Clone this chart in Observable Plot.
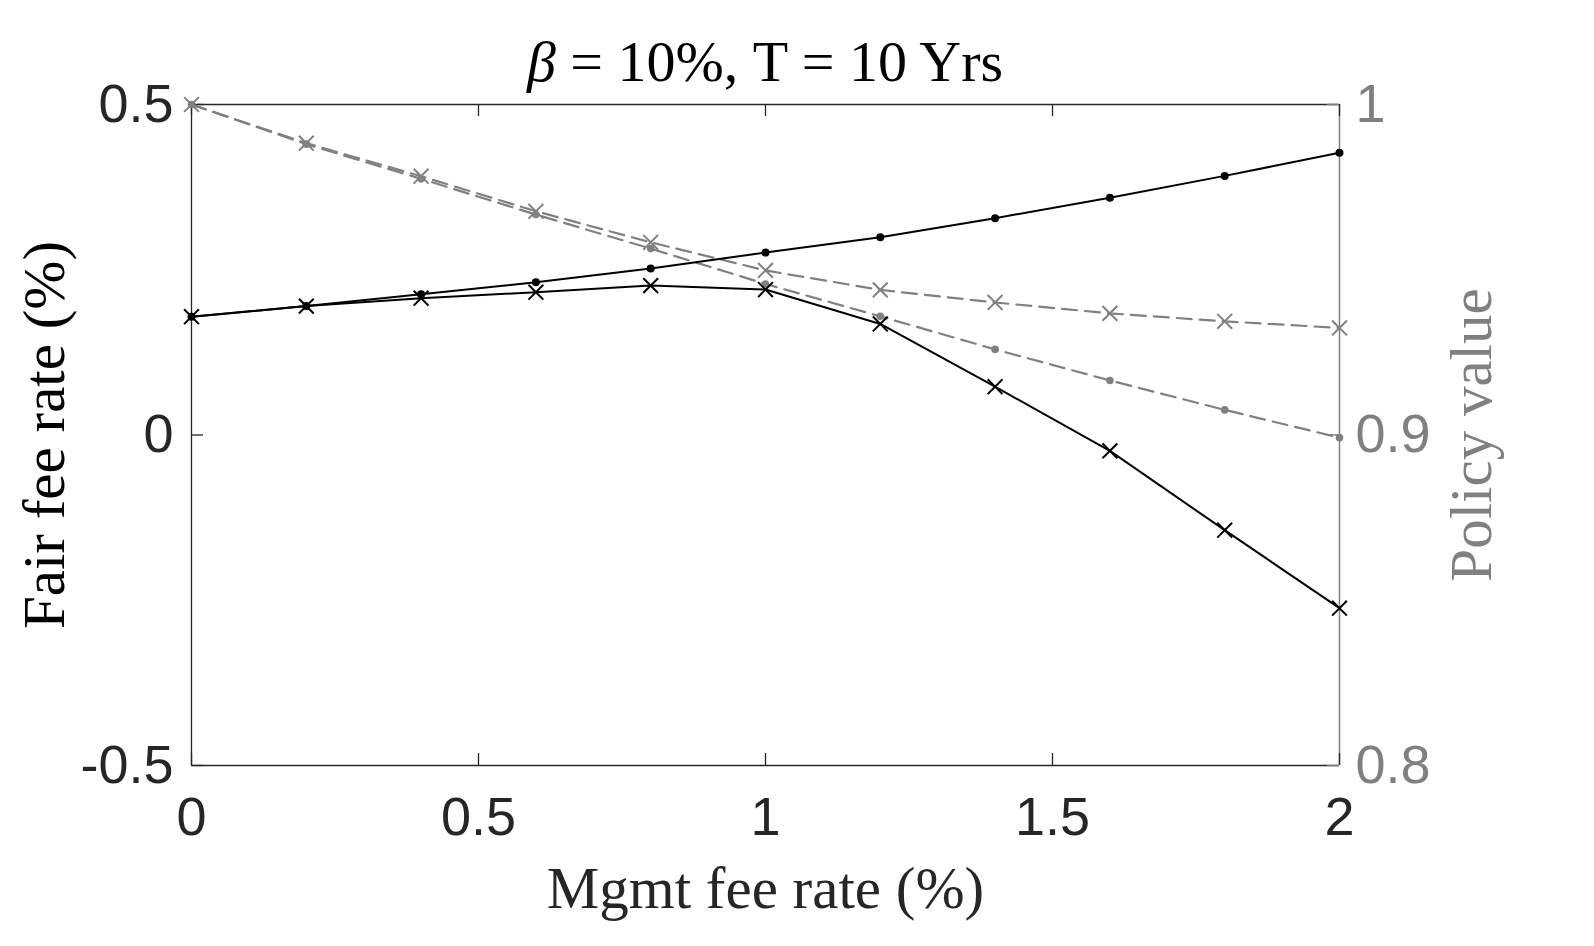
<!DOCTYPE html>
<html>
<head>
<meta charset="utf-8">
<script src="https://cdn.jsdelivr.net/npm/d3@7"></script>
<script src="https://cdn.jsdelivr.net/npm/@observablehq/plot@0.6"></script>
<style>
  html, body { margin: 0; padding: 0; background: #ffffff; }
  #wrap { width: 1594px; height: 946px; position: relative; background: #fff; }
  #title {
    width: 1530px; height: 59px; padding-top: 32px;
    text-align: center; font-family: "Liberation Serif", serif; font-size: 58px;
    line-height: 59px; color: #000; white-space: nowrap;
  }
  svg { display: block; }
</style>
</head>
<body>
<div id="wrap">
  <div id="title"><i>β</i> = 10%, T = 10 Yrs</div>
  <div id="chart"></div>
</div>
<script>
// ---- data ----
const mgmtFee = [0, 0.2, 0.4, 0.6, 0.8, 1.0, 1.2, 1.4, 1.6, 1.8, 2.0];
const fairFeeDot = [0.179, 0.195, 0.213, 0.231, 0.252, 0.276, 0.299, 0.328, 0.359, 0.392, 0.427];
const fairFeeX   = [0.179, 0.195, 0.207, 0.216, 0.226, 0.220, 0.168, 0.073, -0.024, -0.144, -0.262];
const policyDot  = [1.000, 0.988, 0.9775, 0.9667, 0.9564, 0.9457, 0.9359, 0.9259, 0.9165, 0.9076, 0.8992];
const policyX    = [1.000, 0.9883, 0.9783, 0.9677, 0.9583, 0.9498, 0.9439, 0.9401, 0.9368, 0.9344, 0.9324];

const xTicks = [0, 0.5, 1, 1.5, 2];
const leftTicks = [-0.5, 0, 0.5];
const rightTicks = [0.8, 0.9, 1.0];
const rightDomain = [0.8, 1.0];
const leftDomain = [-0.5, 0.5];

const xLabel = "Mgmt fee rate (%)";
const leftLabel = "Fair fee rate (%)";
const rightLabel = "Policy value";

// map right-axis values onto the left y scale
const toLeft = v => leftDomain[0] + (v - rightDomain[0]) / (rightDomain[1] - rightDomain[0]) * (leftDomain[1] - leftDomain[0]);
const fromLeft = y => rightDomain[0] + (y - leftDomain[0]) / (leftDomain[1] - leftDomain[0]) * (rightDomain[1] - rightDomain[0]);

const rows = (ys) => mgmtFee.map((x, i) => ({x, y: ys[i]}));
const dotRows = rows(fairFeeDot);
const xRows = rows(fairFeeX);
const pDotRows = rows(policyDot.map(toLeft));
const pXRows = rows(policyX.map(toLeft));

const dark = "#262626";
const gray = "#808080";
const W = 1594, H = 855;
const mTop = 13, mBottom = 181, mLeft = 191, mRight = 255;
const frameH = H - mTop - mBottom;
const frameW = W - mLeft - mRight;
const tickLen = 12;
const sans = "Liberation Sans, Arial, Helvetica, sans-serif";
const serif = "Liberation Serif, Times New Roman, serif";
const tickFont = 54;
const labelFont = 59;

const chart = Plot.plot({
  width: W,
  height: H,
  marginLeft: mLeft,
  marginRight: mRight,
  marginTop: mTop,
  marginBottom: mBottom,
  style: {background: "#fff", overflow: "visible", fontFamily: sans},
  x: {domain: [0, 2], type: "linear"},
  y: {domain: leftDomain, type: "linear"},
  marks: [
    // frame lines
    Plot.ruleY([leftDomain[0], leftDomain[1]], {stroke: dark, strokeWidth: 1.3}),
    Plot.ruleX([0], {stroke: dark, strokeWidth: 1.3}),
    Plot.ruleX([2], {stroke: gray, strokeWidth: 1.5}),
    // inward ticks
    Plot.tickX(xTicks, {x: d => d, stroke: dark, strokeWidth: 1.3, insetTop: frameH - tickLen}),
    Plot.tickX(xTicks, {x: d => d, stroke: dark, strokeWidth: 1.3, insetBottom: frameH - tickLen}),
    Plot.tickY(leftTicks, {y: d => d, stroke: dark, strokeWidth: 1.3, insetRight: frameW - tickLen}),
    Plot.tickY(rightTicks, {y: d => toLeft(d), stroke: gray, strokeWidth: 1.5, insetLeft: frameW - tickLen}),
    // tick labels
    Plot.axisX({ticks: xTicks, tickSize: 0, tickPadding: 31, label: null, fontSize: tickFont, fontFamily: sans, color: dark, tickFormat: d => String(d)}),
    Plot.axisY({ticks: leftTicks, tickSize: 0, tickPadding: 18, label: null, fontSize: tickFont, fontFamily: sans, color: dark, tickFormat: d => String(d)}),
    Plot.axisY({anchor: "right", ticks: rightTicks.map(toLeft), tickSize: 0, tickPadding: 16, label: null, fontSize: tickFont, fontFamily: sans, color: gray, tickFormat: d => String(+fromLeft(d).toFixed(2))}),
    // axis labels
    Plot.text([xLabel], {text: d => d, frameAnchor: "bottom", textAnchor: "middle", lineAnchor: "middle", dy: 124, fontSize: labelFont, fontFamily: serif, fill: dark}),
    Plot.text([leftLabel], {text: d => d, frameAnchor: "left", textAnchor: "middle", lineAnchor: "middle", rotate: -90, dx: -146, fontSize: labelFont, fontFamily: serif, fill: "#000"}),
    Plot.text([rightLabel], {text: d => d, frameAnchor: "right", textAnchor: "middle", lineAnchor: "middle", rotate: -90, dx: 133, fontSize: labelFont, fontFamily: serif, fill: gray}),
    // right-axis (policy value) series, gray dashed
    Plot.line(pXRows, {x: "x", y: "y", stroke: gray, strokeWidth: 2.2, strokeDasharray: "15,8"}),
    Plot.line(pDotRows, {x: "x", y: "y", stroke: gray, strokeWidth: 2.2, strokeDasharray: "15,8"}),
    Plot.dot(pXRows, {x: "x", y: "y", symbol: "times", r: 6.8, stroke: gray, strokeWidth: 2}),
    Plot.dot(pDotRows, {x: "x", y: "y", r: 3.8, fill: gray, stroke: "none"}),
    // left-axis (fair fee) series, black solid
    Plot.line(dotRows, {x: "x", y: "y", stroke: "#000", strokeWidth: 2}),
    Plot.line(xRows, {x: "x", y: "y", stroke: "#000", strokeWidth: 2}),
    Plot.dot(xRows, {x: "x", y: "y", symbol: "times", r: 6.8, stroke: "#000", strokeWidth: 2}),
    Plot.dot(dotRows, {x: "x", y: "y", r: 4, fill: "#000", stroke: "none"})
  ]
});
document.getElementById("chart").appendChild(chart);
</script>
</body>
</html>
